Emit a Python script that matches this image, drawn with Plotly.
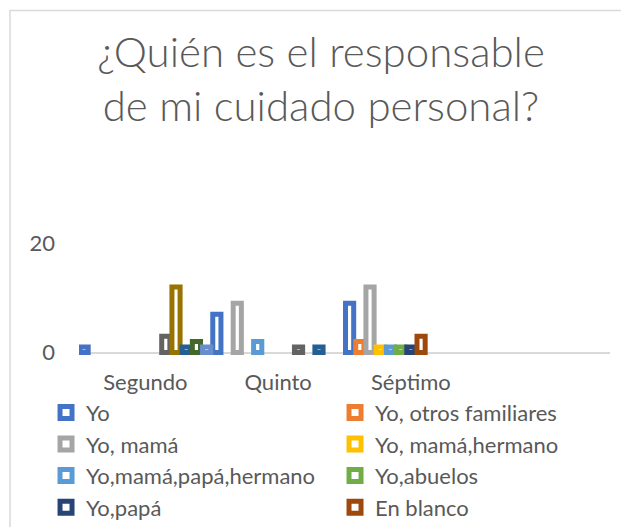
import plotly.graph_objects as go

# Grades (the axis has room for a fourth, empty slot)
grades = ['Segundo', 'Quinto', 'Séptimo']

# Answers in the legend, in Excel series order
series_names = ['Yo', 'Yo, otros familiares', 'Yo, mamá', 'Yo, mamá,hermano',
                'Yo,mamá,papá,hermano', 'Yo,abuelos', 'Yo,papá', 'En blanco',
                'Serie 9', 'Serie 10', 'Serie 11', 'Serie 12', 'Serie 13']

# Counts per grade (Segundo, Quinto, Séptimo)
yo = [1, 7, 9]
yo_otros_familiares = [0, 0, 2]
yo_mama = [0, 9, 12]
yo_mama_hermano = [0, 0, 1]
yo_mama_papa_hermano = [0, 2, 1]
yo_abuelos = [0, 0, 1]
yo_papa = [0, 0, 1]
en_blanco = [0, 0, 3]
serie_9 = [3, 1, 0]
serie_10 = [12, 0, 0]
serie_11 = [1, 1, 0]
serie_12 = [2, 0, 0]
serie_13 = [1, 0, 0]

values = [yo, yo_otros_familiares, yo_mama, yo_mama_hermano, yo_mama_papa_hermano,
          yo_abuelos, yo_papa, en_blanco, serie_9, serie_10, serie_11, serie_12, serie_13]

# Office palette
colors = ['#4472C4', '#ED7D31', '#A5A5A5', '#FFC000', '#5B9BD5', '#70AD47',
          '#264478', '#9E480E', '#636363', '#997300', '#255E91', '#43682B', '#698ED0']

fig = go.Figure()
for i, (name, vals, col) in enumerate(zip(series_names, values, colors)):
    # zero counts leave an empty slot, as in Excel
    fig.add_trace(go.Bar(
        x=grades,
        y=[v if v else None for v in vals],
        name=name,
        marker=dict(color='white', line=dict(color=col, width=5)),
        showlegend=i < 8,
    ))

text_col = '#595959'
grid_col = '#D9D9D9'

# page body has an 8px margin, so the figure is 8px smaller than the window
fig.update_layout(
    width=621,
    height=519,
    barmode='group',
    bargap=0,
    bargroupgap=0.2,
    paper_bgcolor='white',
    plot_bgcolor='white',
    font=dict(family='Lato', size=22, color=text_col),
    margin=dict(l=71, r=19, t=235, b=172, autoexpand=False),
    title=dict(
        text='¿Quién es el responsable<br>de mi cuidado personal?',
        font=dict(family='Lato', size=42, color=text_col, weight=300),
        x=0.504, xref='container', xanchor='center',
        y=0.887, yref='container', yanchor='top',
    ),
    xaxis=dict(
        range=[-0.5, 3.5],
        showgrid=False,
        showline=False,
        ticks='',
        ticklabelstandoff=12,
        automargin=False,
    ),
    yaxis=dict(
        range=[-0.45, 20.05],
        tickvals=[0, 20],
        showgrid=True,
        gridcolor=grid_col,
        gridwidth=1.5,
        zeroline=True,
        zerolinecolor=grid_col,
        zerolinewidth=1.5,
        showline=False,
        ticks='',
        ticklabelstandoff=23,
        automargin=False,
    ),
    legend=dict(
        orientation='h',
        entrywidth=244,
        entrywidthmode='pixels',
        x=-0.0621, xanchor='left',
        y=-0.327, yanchor='top',
        font=dict(size=22, color=text_col),
        traceorder='normal',
        bgcolor='rgba(0,0,0,0)',
    ),
    shapes=[dict(
        type='rect', xref='paper', yref='paper',
        x0=-0.13, x1=1.07, y0=-1.71, y1=3.077,
        line=dict(color=grid_col, width=1.5),
        fillcolor='rgba(0,0,0,0)',
        layer='below',
    )],
)

fig.write_html('out.html')
